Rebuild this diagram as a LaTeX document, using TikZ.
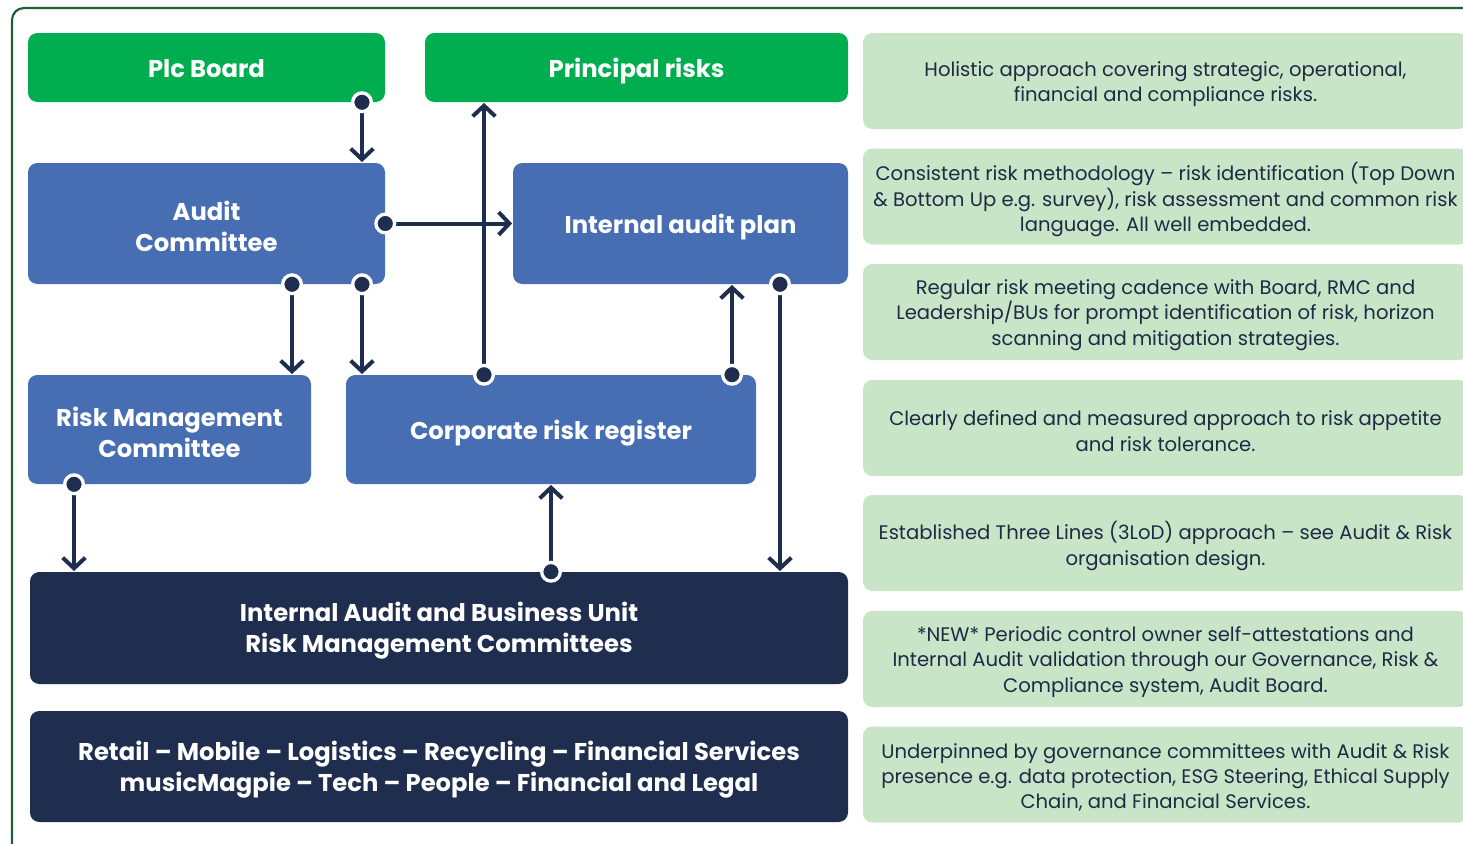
\documentclass[tikz,border=0pt]{standalone}
\usepackage{fontspec}
\setmainfont{Poppins}
\usetikzlibrary{arrows.meta}

\definecolor{boardgreen}{HTML}{00AE4F}
\definecolor{auditblue}{HTML}{476DB3}
\definecolor{navy}{HTML}{1F2D4E}
\definecolor{palegreen}{HTML}{C9E5C8}
\definecolor{framegreen}{HTML}{1B5E38}
\definecolor{notetext}{HTML}{1E2A44}

% one drawing unit (a "px") of the layout grid
\newlength\px
\setlength\px{0.75pt}

\tikzset{
  box/.style={rounded corners=7pt, inner sep=0pt, text=white, align=center,
    font=\bfseries\fontsize{18.2}{23.25}\selectfont},
  oneline/.style={text height=12.7pt, text depth=0pt, yshift=-1.5\px},
  twoline/.style={yshift=-3\px},
  greenbox/.style={box, fill=boardgreen},
  bluebox/.style={box, fill=auditblue},
  navybox/.style={box, fill=navy},
  notebox/.style={rounded corners=7pt, inner sep=0pt, fill=palegreen, text=notetext,
    align=center, font=\fontsize{14.7}{19}\selectfont,
    minimum width=605\px, minimum height=96\px},
  notetext/.style={yshift=-3\px},
  size/.style 2 args={minimum width=#1\px, minimum height=#2\px},
  conn/.style={draw=navy, line width=3pt, shorten >=0.5pt,
    -{Straight Barb[length=8pt,width=17pt]}},
  dotc/.style={circle, fill=navy, draw=white, line width=2.5pt, minimum size=14pt, inner sep=0pt},
}

\begin{document}
\begin{tikzpicture}[x=0.75pt,y=-0.75pt]
\clip (0,0) rectangle (1463,843);
\fill[white] (0,0) rectangle (1463,843);

% outer frame
\draw[framegreen, line width=1.6pt, rounded corners=9pt] (1490,8) -- (12,8) -- (12,870);

% organisation boxes (drawn as shapes, labels placed on top)
\node[greenbox, size={357}{69}] (plc) at (206.5,67.5) {};
\node[greenbox, size={423}{69}] (pr) at (636.5,67.5) {};
\node[bluebox, size={357}{121}] (audit) at (206.5,223.5) {};
\node[bluebox, size={335}{121}] (iap) at (680.5,223.5) {};
\node[bluebox, size={283}{109}] (rmc) at (169.5,429.5) {};
\node[bluebox, size={410}{109}] (crr) at (551,429.5) {};
\node[navybox, size={818}{112}] (iabu) at (439,628) {};
\node[navybox, size={818}{111}] (units) at (439,766.5) {};

\node[box, oneline] (plc-t) at (plc) {Plc Board};
\node[box, oneline] (pr-t) at (pr) {Principal risks};
\node[box, twoline] (audit-t) at (audit) {Audit\\Committee};
\node[box, oneline] (iap-t) at (iap) {Internal audit plan};
\node[box, twoline] (rmc-t) at (rmc) {Risk Management\\Committee};
\node[box, oneline] (crr-t) at (crr) {Corporate risk register};
\node[box, twoline] (iabu-t) at (iabu) {Internal Audit and Business Unit\\Risk Management Committees};
\node[box, twoline] (units-t) at (units) {Retail -- Mobile -- Logistics -- Recycling -- Financial Services\\musicMagpie -- Tech -- People -- Financial and Legal};

% notes column
\node[notebox] (n1) at (1165.5,81) {};
\node[notebox] (n2) at (1165.5,196.5) {};
\node[notebox] (n3) at (1165.5,312) {};
\node[notebox] (n4) at (1165.5,428) {};
\node[notebox] (n5) at (1165.5,543) {};
\node[notebox] (n6) at (1165.5,659) {};
\node[notebox] (n7) at (1165.5,774.5) {};

\tikzset{ntext/.style={notebox, fill=none, minimum width=0pt, minimum height=0pt, notetext}}
\node[ntext] (n1-t) at (n1) {Holistic approach covering strategic, operational,\\financial and compliance risks.};
\node[ntext] (n2-t) at (n2) {Consistent risk methodology -- risk identification (Top Down\\\& Bottom Up e.g. survey), risk assessment and common risk\\language. All well embedded.};
\node[ntext] (n3-t) at (n3) {Regular risk meeting cadence with Board, RMC and\\Leadership/BUs for prompt identification of risk, horizon\\scanning and mitigation strategies.};
\node[ntext] (n4-t) at (n4) {Clearly defined and measured approach to risk appetite\\and risk tolerance.};
\node[ntext] (n5-t) at (n5) {Established Three Lines (3LoD) approach -- see Audit \& Risk\\organisation design.};
\node[ntext] (n6-t) at (n6) {*NEW* Periodic control owner self-attestations and\\Internal Audit validation through our Governance, Risk \&\\Compliance system, Audit Board.};
\node[ntext] (n7-t) at (n7) {Underpinned by governance committees with Audit \& Risk\\presence e.g. data protection, ESG Steering, Ethical Supply\\Chain, and Financial Services.};

% connector start points
\coordinate (s1) at (362,0 |- plc.south);
\coordinate (s2) at (audit.east);
\coordinate (s3) at (292,0 |- audit.south);
\coordinate (s4) at (362,0 |- audit.south);
\coordinate (s5) at (484,0 |- crr.north);
\coordinate (s6) at (732,0 |- crr.north);
\coordinate (s7) at (780,0 |- iap.south);
\coordinate (s8) at (74,0 |- rmc.south);
\coordinate (s9) at (551,0 |- iabu.north);

% connectors
\draw[conn] (s1) -- (362,0 |- audit.north);
\draw[conn] (s5) -- (484,0 |- pr.south);
\draw[conn] (s2) -- (iap.west);
\draw[conn] (s3) -- (292,0 |- rmc.north);
\draw[conn] (s4) -- (362,0 |- crr.north);
\draw[conn] (s6) -- (732,0 |- iap.south);
\draw[conn] (s7) -- (780,0 |- iabu.north);
\draw[conn] (s8) -- (74,0 |- iabu.north);
\draw[conn] (s9) -- (551,0 |- crr.south);

% origin dots
\foreach \s in {s1,s2,s3,s4,s5,s6,s7,s8,s9}
  \node[dotc] (dot-\s) at (\s) {};
\end{tikzpicture}
\end{document}
